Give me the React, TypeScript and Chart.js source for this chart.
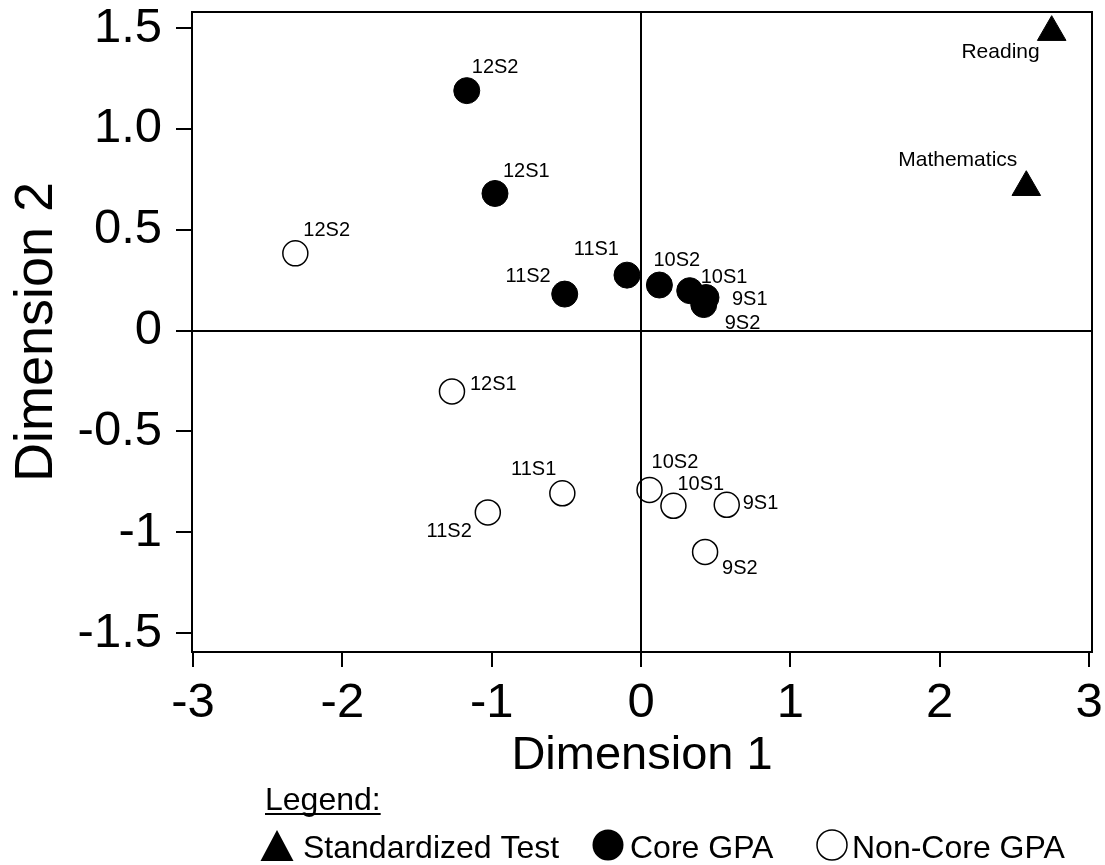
import React, { useEffect, useRef } from "react";
import { Chart, registerables } from "chart.js";

Chart.register(...registerables);

// ---- data ----
const testNames = ["Reading", "Mathematics"];
const testX = [2.75, 2.58];
const testY = [1.48, 0.711];

const coreNames = ["12S2", "12S1", "11S2", "11S1", "10S2", "10S1", "9S1", "9S2"];
const coreX = [-1.167, -0.978, -0.511, -0.094, 0.123, 0.326, 0.435, 0.42];
const coreY = [1.19, 0.68, 0.181, 0.275, 0.226, 0.198, 0.164, 0.129];

const nonCoreNames = ["12S2", "12S1", "11S2", "11S1", "10S2", "10S1", "9S1", "9S2"];
const nonCoreX = [-2.315, -1.266, -1.026, -0.527, 0.057, 0.217, 0.574, 0.429];
const nonCoreY = [0.383, -0.302, -0.902, -0.807, -0.79, -0.869, -0.864, -1.098];

const xTickValues = [-3, -2, -1, 0, 1, 2, 3];
const xTickLabels = ["-3", "-2", "-1", "0", "1", "2", "3"];
const yTickValues = [1.5, 1, 0.5, 0, -0.5, -1, -1.5];
const yTickLabels = ["1.5", "1.0", "0.5", "0", "-0.5", "-1", "-1.5"];

const xTitle = "Dimension 1";
const yTitle = "Dimension 2";
const legendHeader = "Legend:";
const seriesNames = ["Standardized Test", "Core GPA", "Non-Core GPA"];

// ---- label placement (pixel offsets from each point: dx, dy to baseline, align) ----
const testLabelPos: [number, number, CanvasTextAlign][] = [
  [-12, 26, "right"],
  [-9, -21, "right"],
];
const coreLabelPos: [number, number, CanvasTextAlign][] = [
  [5, -18, "left"],
  [8, -16, "left"],
  [-14, -12, "right"],
  [-8, -20, "right"],
  [-6, -19, "left"],
  [11, -8, "left"],
  [26, 7, "left"],
  [21, 24, "left"],
];
const nonCoreLabelPos: [number, number, CanvasTextAlign][] = [
  [8, -17, "left"],
  [18, -1, "left"],
  [-16, 25, "right"],
  [-6, -18, "right"],
  [2, -22, "left"],
  [4, -16, "left"],
  [16, 4, "left"],
  [17, 22, "left"],
];
const labelFontSizes = [21, 20, 20];

const FONT = '"Liberation Sans", Arial, Helvetica, sans-serif';
const INK = "#000";

function pts(xs: number[], ys: number[]) {
  return xs.map((x, i) => ({ x, y: ys[i] }));
}

export default function App() {
  const ref = useRef<HTMLCanvasElement | null>(null);

  useEffect(() => {
    document.body.style.margin = "0";
    const canvas = ref.current;
    if (!canvas) return;

    const names = [testNames, coreNames, nonCoreNames];
    const positions = [testLabelPos, coreLabelPos, nonCoreLabelPos];

    const labelPlugin = {
      id: "pointNames",
      afterDatasetsDraw(chart: any) {
        const ctx = chart.ctx;
        ctx.save();
        ctx.fillStyle = INK;
        ctx.textBaseline = "alphabetic";
        chart.data.datasets.forEach((_ds: any, di: number) => {
          const meta = chart.getDatasetMeta(di);
          ctx.font = `${labelFontSizes[di]}px ${FONT}`;
          meta.data.forEach((el: any, i: number) => {
            const [dx, dy, align] = positions[di][i];
            ctx.textAlign = align;
            ctx.fillText(names[di][i], el.x + dx, el.y + dy);
          });
        });
        ctx.restore();
      },
    };

    const framePlugin = {
      id: "frame",
      beforeDatasetsDraw(chart: any) {
        const { ctx, chartArea } = chart;
        ctx.save();
        ctx.strokeStyle = INK;
        ctx.lineWidth = 2;
        ctx.beginPath();
        ctx.moveTo(chartArea.left, chartArea.top);
        ctx.lineTo(chartArea.right, chartArea.top);
        ctx.lineTo(chartArea.right, chartArea.bottom);
        ctx.stroke();
        ctx.restore();
      },
    };

    const legendPlugin = {
      id: "customLegend",
      afterDraw(chart: any) {
        const ctx = chart.ctx;
        ctx.save();
        ctx.fillStyle = INK;
        ctx.strokeStyle = INK;
        ctx.textAlign = "left";
        ctx.textBaseline = "alphabetic";
        ctx.font = `32px ${FONT}`;
        ctx.fillText(legendHeader, 265, 810);
        const w = ctx.measureText(legendHeader).width;
        ctx.fillRect(265, 813, w, 2);

        // triangle
        ctx.beginPath();
        ctx.moveTo(277, 830);
        ctx.lineTo(293.5, 861);
        ctx.lineTo(260.5, 861);
        ctx.closePath();
        ctx.fill();
        ctx.fillText(seriesNames[0], 303, 858);

        // filled circle
        ctx.beginPath();
        ctx.arc(608, 845, 15.5, 0, Math.PI * 2);
        ctx.fill();
        ctx.fillText(seriesNames[1], 630, 858);

        // open circle
        ctx.beginPath();
        ctx.lineWidth = 1.5;
        ctx.arc(832, 845, 15, 0, Math.PI * 2);
        ctx.stroke();
        ctx.fillText(seriesNames[2], 852, 858);
        ctx.restore();
      },
    };

    const zeroGrid = (c: any) =>
      c.tick && c.tick.value === 0 ? INK : "rgba(0,0,0,0)";

    const chart = new Chart(canvas, {
      type: "scatter",
      data: {
        datasets: [
          {
            label: seriesNames[0],
            data: pts(testX, testY),
            pointStyle: "triangle",
            pointRadius: 16.5,
            pointHoverRadius: 16.5,
            backgroundColor: INK,
            borderColor: INK,
            borderWidth: 1,
          },
          {
            label: seriesNames[1],
            data: pts(coreX, coreY),
            pointStyle: "circle",
            pointRadius: 13,
            pointHoverRadius: 13,
            backgroundColor: INK,
            borderColor: INK,
            borderWidth: 1,
          },
          {
            label: seriesNames[2],
            data: pts(nonCoreX, nonCoreY),
            pointStyle: "circle",
            pointRadius: 12.5,
            pointHoverRadius: 12.5,
            backgroundColor: "rgba(255,255,255,0)",
            borderColor: INK,
            borderWidth: 1.5,
          },
        ],
      },
      options: {
        responsive: false,
        animation: false,
        events: [],
        layout: { autoPadding: false, padding: { left: 0, top: 12, right: 13, bottom: 0 } },
        plugins: {
          legend: { display: false },
          tooltip: { enabled: false },
        },
        scales: {
          x: {
            type: "linear",
            min: -3.007,
            max: 3.02,
            afterBuildTicks: (s: any) => {
              s.ticks = xTickValues.map((v) => ({ value: v }));
            },
            afterFit: (s: any) => {
              s.height = 213;
              s.paddingLeft = 0;
              s.paddingRight = 0;
            },
            ticks: {
              autoSkip: false,
              maxRotation: 0,
              padding: 7,
              color: INK,
              font: { family: FONT, size: 49 },
              callback: (v: any) => {
                const i = xTickValues.indexOf(Number(v));
                return i >= 0 ? xTickLabels[i] : "";
              },
            },
            grid: {
              color: zeroGrid,
              lineWidth: 2,
              tickColor: INK,
              tickLength: 15,
              tickWidth: 2,
            },
            border: { display: true, color: INK, width: 2 },
            title: {
              display: true,
              text: xTitle,
              color: INK,
              font: { family: FONT, size: 47 },
              padding: { top: 0, bottom: 81 },
            },
          },
          y: {
            type: "linear",
            min: -1.594,
            max: 1.58,
            afterBuildTicks: (s: any) => {
              s.ticks = yTickValues.map((v) => ({ value: v }));
            },
            afterFit: (s: any) => {
              s.width = 192;
              s.paddingTop = 0;
              s.paddingBottom = 0;
            },
            ticks: {
              autoSkip: false,
              padding: 14,
              color: INK,
              font: { family: FONT, size: 49 },
              callback: (v: any) => {
                const i = yTickValues.indexOf(Number(v));
                return i >= 0 ? yTickLabels[i] : "";
              },
            },
            grid: {
              color: zeroGrid,
              lineWidth: 2,
              tickColor: INK,
              tickLength: 16,
              tickWidth: 2,
            },
            border: { display: true, color: INK, width: 2 },
            title: {
              display: true,
              text: yTitle,
              color: INK,
              font: { family: FONT, size: 54 },
              padding: { top: 5, bottom: 0 },
            },
          },
        },
      },
      plugins: [framePlugin, labelPlugin, legendPlugin],
    } as any);

    return () => {
      chart.destroy();
    };
  }, []);

  return (
    <div style={{ width: 1105, height: 865, position: "relative", background: "#fff" }}>
      <canvas ref={ref} width={1105} height={865} style={{ display: "block" }} />
    </div>
  );
}
